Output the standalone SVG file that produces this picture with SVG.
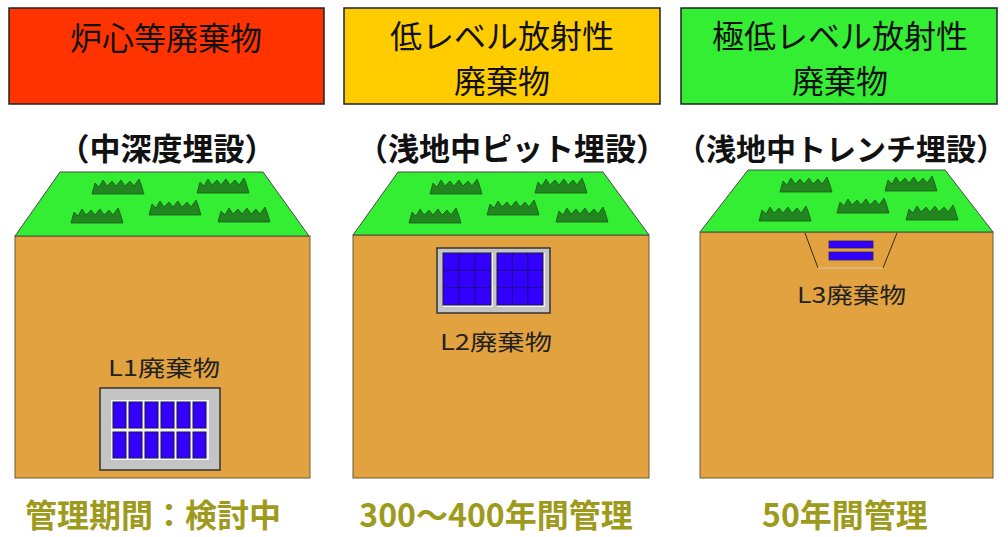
<svg xmlns="http://www.w3.org/2000/svg" width="1008" height="537" viewBox="0 0 1008 537">
  <style>
    .title { font-family: "Noto Sans CJK JP", "Noto Sans", sans-serif; font-size: 32px; fill: #111; text-anchor: middle; }
    .sub { font-family: "Noto Sans CJK JP", "Noto Sans", sans-serif; font-size: 31px; font-weight: bold; fill: #111; text-anchor: middle; }
    .lbl { font-family: "Noto Sans CJK JP", "Noto Sans", sans-serif; font-size: 22px; fill: #222; }
    .period { font-family: "Noto Sans CJK JP", "Noto Sans", sans-serif; font-size: 32px; font-weight: bold; fill: #9e9a1c; text-anchor: middle; }
    .box { stroke: #222; stroke-width: 1.5; }
    .turf { fill: #33ee33; stroke: #4a4a4a; stroke-width: 1; }
    .soil { fill: #e3a240; stroke: #6b5a3a; stroke-width: 1; }
    .cell { fill: #3300ff; stroke: #1a1a40; stroke-width: 1; }
    .frame { fill: #c4c4c4; stroke: #333; stroke-width: 1.5; }
    .grid { stroke: #1a0a80; stroke-width: 1; fill: none; }
  </style>
  <defs>
    <!-- grass tuft, 52 x 16 -->
    <path id="tuft" d="M0,16 L3,5 L7,9 L11,2 L15,8 L20,3 L24,8 L29,2 L33,8 L38,3 L42,8 L47,1 L49,6 L52,16 Z" fill="#23851f" stroke="#145a14" stroke-width="0.8"/>
    <g id="tufts">
      <use href="#tuft" x="32" y="6"/>
      <use href="#tuft" x="137" y="5"/>
      <use href="#tuft" x="89" y="27"/>
      <use href="#tuft" x="11" y="35"/>
      <use href="#tuft" x="158" y="34"/>
    </g>
  </defs>

  <!-- headers -->
  <g id="header-core">
    <rect class="box" x="9" y="8" width="315" height="96" fill="#ff3300"/>
    <text class="title" x="166" y="50">炉心等廃棄物</text>
  </g>
  <g id="header-low">
    <rect class="box" x="344" y="8" width="316" height="96" fill="#ffcc00"/>
    <text class="title" x="502" y="48">低レベル放射性</text>
    <text class="title" x="502" y="93">廃棄物</text>
  </g>
  <g id="header-verylow">
    <rect class="box" x="681" y="8" width="316" height="96" fill="#33ee33"/>
    <text class="title" x="840" y="48">極低レベル放射性</text>
    <text class="title" x="840" y="93">廃棄物</text>
  </g>

  <!-- disposal methods -->
  <text class="sub" x="167" y="160">（中深度埋設）</text>
  <text class="sub" x="512" y="160">（浅地中ピット埋設）</text>
  <text class="sub" x="841" y="160" style="font-size:30px">（浅地中トレンチ埋設）</text>

  <!-- column 1: intermediate depth -->
  <g id="site-l1">
    <rect class="soil" x="15" y="236" width="295" height="242"/>
    <polygon class="turf" points="60,172 263,172 309,236 15,236"/>
    <use href="#tufts" x="60" y="172"/>
    <text class="lbl" x="108" y="376" textLength="112" lengthAdjust="spacingAndGlyphs">L1廃棄物</text>
    <rect class="frame" x="100" y="388" width="120" height="82"/>
    <rect x="111" y="400" width="98" height="60" fill="#f4f4f4"/>
    <g>
      <rect class="cell" x="113" y="402" width="13" height="26"/>
      <rect class="cell" x="129" y="402" width="13" height="26"/>
      <rect class="cell" x="145" y="402" width="13" height="26"/>
      <rect class="cell" x="161" y="402" width="13" height="26"/>
      <rect class="cell" x="177" y="402" width="13" height="26"/>
      <rect class="cell" x="193" y="402" width="13" height="26"/>
      <rect class="cell" x="113" y="432" width="13" height="26"/>
      <rect class="cell" x="129" y="432" width="13" height="26"/>
      <rect class="cell" x="145" y="432" width="13" height="26"/>
      <rect class="cell" x="161" y="432" width="13" height="26"/>
      <rect class="cell" x="177" y="432" width="13" height="26"/>
      <rect class="cell" x="193" y="432" width="13" height="26"/>
    </g>
  </g>

  <!-- column 2: shallow pit -->
  <g id="site-l2">
    <rect class="soil" x="353" y="235" width="296" height="243"/>
    <polygon class="turf" points="398,172 603,172 649,235 353,235"/>
    <use href="#tufts" x="398" y="172"/>
    <rect class="frame" x="437" y="248" width="113" height="65"/>
    <rect x="443" y="253" width="50" height="54" fill="#f4f4f4"/>
    <rect x="497" y="253" width="48" height="54" fill="#f4f4f4"/>
    <rect class="cell" x="443" y="253" width="48" height="52"/>
    <path class="grid" d="M459,253 V305 M475,253 V305 M443,270.3 H491 M443,287.7 H491"/>
    <rect class="cell" x="497" y="253" width="46" height="52"/>
    <path class="grid" d="M512.3,253 V305 M527.7,253 V305 M497,270.3 H543 M497,287.7 H543"/>
    <text class="lbl" x="440" y="350" textLength="112" lengthAdjust="spacingAndGlyphs">L2廃棄物</text>
  </g>

  <!-- column 3: shallow trench -->
  <g id="site-l3">
    <rect class="soil" x="700" y="232" width="293" height="246"/>
    <polygon class="turf" points="748,170 945,170 993,232 700,232"/>
    <use href="#tufts" x="748" y="170"/>
    <path d="M805,233 L818,268 M897,233 L883,268" stroke="#3a2a1a" stroke-width="1" fill="none"/>
    <path d="M818,268 H883" stroke="#d8c9a8" stroke-width="1" fill="none"/>
    <rect x="829" y="241" width="44" height="7" fill="#3300ff" stroke="#2a2060" stroke-width="0.8"/>
    <rect x="829" y="252" width="44" height="8" fill="#3300ff" stroke="#2a2060" stroke-width="0.8"/>
    <text class="lbl" x="797" y="303" textLength="109" lengthAdjust="spacingAndGlyphs">L3廃棄物</text>
  </g>

  <!-- management periods -->
  <text class="period" x="153" y="527">管理期間：検討中</text>
  <text class="period" x="496" y="527">300〜400年間管理</text>
  <text class="period" x="845" y="527">50年間管理</text>
</svg>
